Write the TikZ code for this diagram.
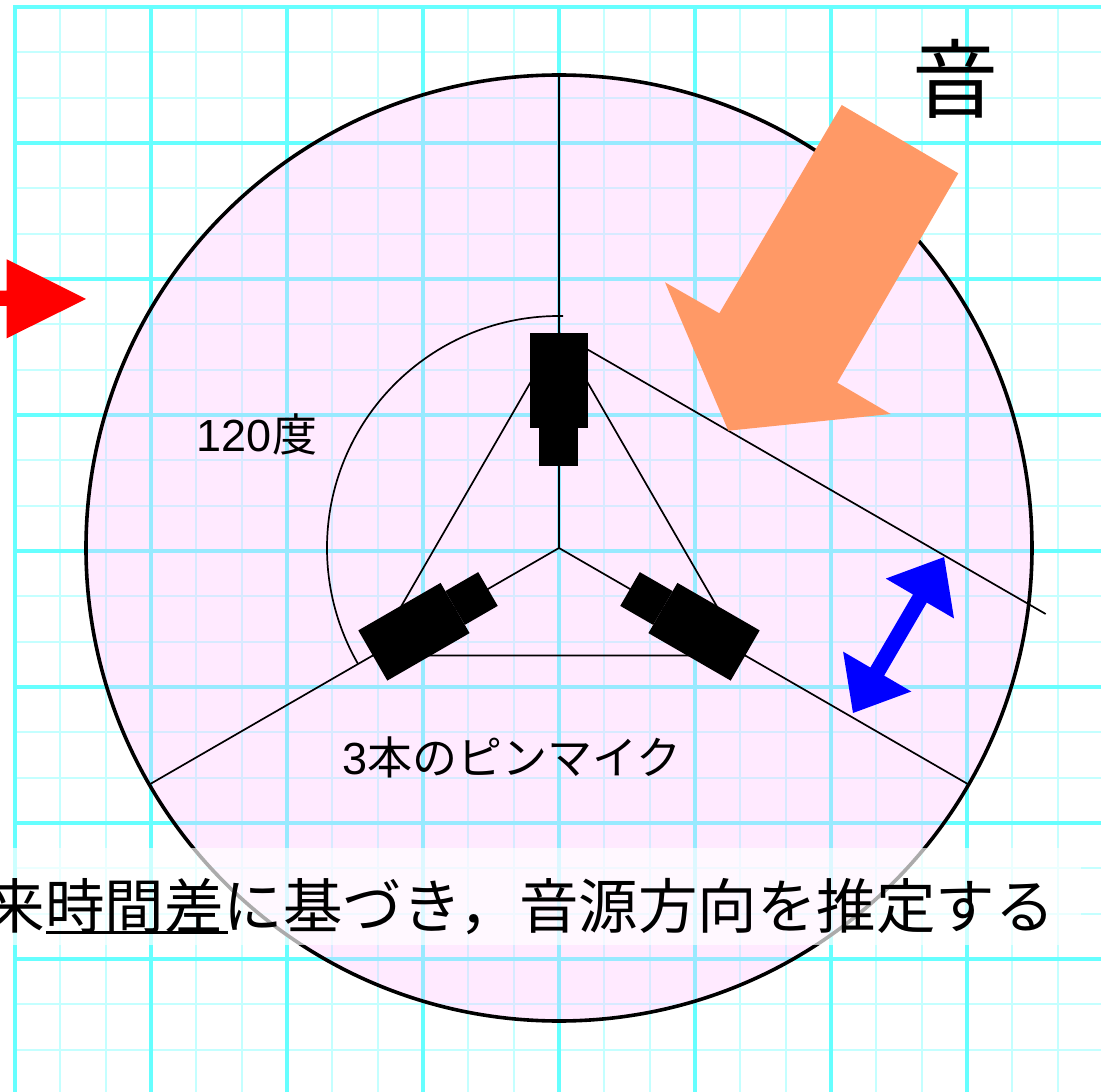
\documentclass[tikz,border=0pt]{standalone}
\usepackage{fontspec}
\setmainfont{Noto Sans CJK JP}
\newfontfamily\latinfont{Liberation Sans}
\usetikzlibrary{calc}
\definecolor{gridcyan}{HTML}{66FFFF}
\definecolor{gridpale}{HTML}{C4FFFF}
\definecolor{discpink}{HTML}{FFC2FF}
\definecolor{wavearrow}{HTML}{FF9966}
\begin{document}
\begin{tikzpicture}[x=1pt,y=1pt,
  gridmajor/.style={draw=gridcyan, line width=3.4pt},
  gridminor/.style={draw=gridpale, line width=2.3pt},
  thinline/.style={draw=black, line width=1.7pt},
  micpart/.style={fill=black},
  txt/.style={inner sep=0pt, font=\fontsize{45}{50}\selectfont},
]
\useasboundingbox (-559,-544) rectangle (542,548);
\clip (-559,-544) rectangle (542,548);
\fill[white] (-559,-544) rectangle (542,548);

% graph paper: minor lines first, major lines on top
\foreach \k in {-12,...,11}
  \draw[gridminor] ({45.3333*\k},-546) -- ({45.3333*\k},541);
\foreach \j in {-11,...,12}
  \draw[gridminor] (-544,{-3+45.3333*\j}) -- (544,{-3+45.3333*\j});
\foreach \k in {-12,-9,...,9}
  \draw[gridmajor] ({45.3333*\k},-546) -- ({45.3333*\k},542.7);
\foreach \j in {-9,-6,...,12}
  \draw[gridmajor] (-545.7,{-3+45.3333*\j}) -- (544,{-3+45.3333*\j});

% pick-up disc
\coordinate (O) at (0,0);
\fill[discpink, fill opacity=0.33] (O) circle[radius=473];
\draw[line width=3.6pt] (O) circle[radius=473];

% radial axes of the three microphones
\coordinate (rtop) at (90:473);
\coordinate (rleft) at (210:473);
\coordinate (rright) at (330:473);
\draw[thinline] (rtop) -- (O) -- (rleft);
\draw[thinline] (O) -- (rright);

% microphone positions and the triangle between them
\coordinate (mtop) at (90:215);
\coordinate (mleft) at (210:215);
\coordinate (mright) at (330:215);
\draw[thinline] (mtop) -- (mleft) -- (mright) -- cycle;

% wavefront line through the top microphone
\coordinate (wend) at ($(mtop)+(330:562)$);
\draw[thinline] (mtop) -- (wend);

% 120 degree arc
\draw[thinline] (89:232) arc[start angle=89, end angle=210, radius=232];

% microphones
\foreach \a in {90,210,330}{
  \begin{scope}[rotate=\a-90]
    \fill[micpart] (-29,120) rectangle (29,215);
    \fill[micpart] (-19.5,82) rectangle (19.5,120);
  \end{scope}
}

% incoming sound arrow
\fill[wavearrow] (282.7,443) -- (399.3,374.7) -- (278.3,165.3) -- (331.7,134)
  -- (169.3,117.3) -- (106,265.7) -- (160.3,234.7) -- cycle;

% red arrow at the left edge
\fill[red] (-565,257.3) -- (-552.3,257.3) -- (-552.3,288.7) -- (-473,249)
  -- (-552.3,209.7) -- (-552.3,242) -- (-565,242) -- cycle;

% path difference double arrow
\begin{scope}[shift={(294,-165)}, rotate=59.7]
  \fill[blue] (0,0) -- (48,39.5) -- (48,8) -- (132.6,8) -- (132.6,39.5)
    -- (180.6,0) -- (132.6,-39.5) -- (132.6,-8) -- (48,-8) -- (48,-39.5) -- cycle;
\end{scope}

% labels
\node[txt] (angle) at (-302,114) {{\latinfont 120}度};
\node[txt] (mics) at (-47,-209) {{\latinfont 3}本のピンマイク};
\node[inner sep=0pt, font=\fontsize{86}{90}\selectfont] (sound) at (396,469) {音};

% caption strip
\fill[white, fill opacity=0.67] (-559,-300) rectangle (522,-397);
\node[anchor=base west, inner sep=0pt, font=\fontsize{59.5}{64}\selectfont] (caption)
  at (-573.5,-380) {来時間差に基づき，音源方向を推定する};
\draw[line width=3pt] ($(caption.base west)+(61,-4.5)$) -- ++(182,0);
\end{tikzpicture}
\end{document}
